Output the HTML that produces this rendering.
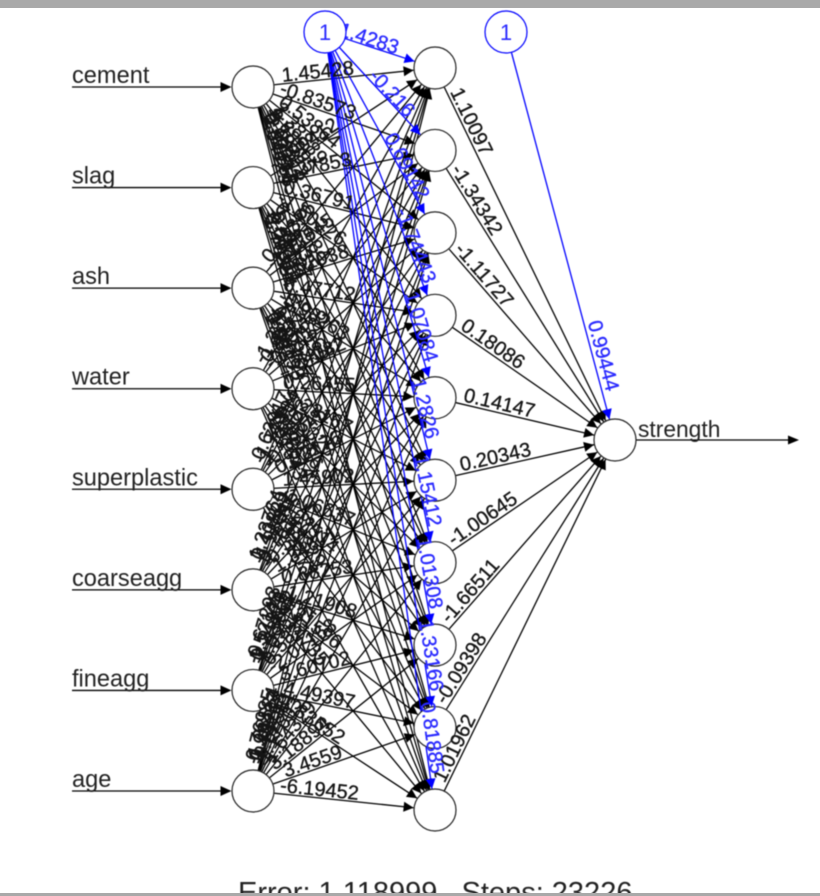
<!DOCTYPE html>
<html>
<head>
<meta charset="utf-8">
<title>Neural network plot</title>
<style>
html,body{margin:0;padding:0;background:#fff;}
#stage{position:relative;width:820px;height:896px;overflow:hidden;background:#fff;}
#top-bar{position:absolute;left:0;top:0;width:820px;height:8px;background:#a9a9a9;}
#bottom-bar{position:absolute;left:0;top:893px;width:820px;height:3px;background:#a9a9a9;}
svg{position:absolute;left:0;top:0;filter:blur(0.4px);}
text{font-family:"Liberation Sans",Arial,sans-serif;}
</style>
</head>
<body>
<div id="stage">
<svg id="net" width="820" height="896" viewBox="0 0 820 896"></svg>
<div id="top-bar"></div>
<div id="bottom-bar"></div>
</div>
<script>
const inputNames = ["cement","slag","ash","water","superplastic","coarseagg","fineagg","age"];
const outputName = "strength";
const cementWeights = [1.45428,-0.83573,0.53864,2.38889,1.68995,0.18322,-1.32218,0.90317,-2.10755,0.64129];
const slagWeights = [-0.90412,1.27853,0.36791,-1.50226,0.72984,1.18335,-0.46127,2.01489,0.29968,-1.76254];
const ashWeights = [0.81376,-1.12945,1.62038,0.47712,-0.98263,1.29968,0.35521,-1.84407,0.66193,1.03872];
const waterWeights = [-1.38245,0.92716,-0.57139,1.74082,0.26455,-2.23167,1.05328,0.48896,-0.73514,1.91643];
const superplasticWeights = [0.62917,-1.71364,1.14883,-0.39245,0.82176,1.45902,-1.06637,0.27514,1.58329,-0.84471];
const coarseaggWeights = [1.23764,0.40829,-1.95316,0.76142,-0.51287,1.34671,0.88253,-1.21908,0.31596,2.14735];
const fineaggWeights = [-0.67293,1.52148,0.24876,-1.43692,1.09525,0.58314,-2.07168,3.60702,4.49397,1.83652];
const ageWeights = [0.76985,-1.28534,1.96417,0.43268,-0.82951,1.17603,-1.64329,3.18894,3.4559,-6.19452];
const weightRows = [cementWeights,slagWeights,ashWeights,waterWeights,superplasticWeights,coarseaggWeights,fineaggWeights,ageWeights];
const biasHiddenWeights = [1.4283,-0.216,0.69142,-1.74443,1.07084,1.2826,1.15412,1.01308,1.33166,0.81885];
const hiddenOutputWeights = [1.10097,-1.34342,-1.11727,0.18086,0.14147,0.20343,-1.00645,-1.66511,-0.09398,1.01962];
const biasOutputWeight = 0.99444;
const errorValue = "1.118999";
const stepsValue = "23226";

const NS = "http://www.w3.org/2000/svg";
const svg = document.getElementById("net");
const R = 21.5;
function inX(){ return 253; }
function inY(i){ return 87 + i * (791 - 87) / (inputNames.length - 1); }
function hidX(){ return 435; }
function hidY(j){ return 68 + j * (810 - 68) / (hiddenOutputWeights.length - 1); }
const outNode = {x:615, y:440};
const bias1 = {x:325, y:32};
const bias2 = {x:506, y:32};

function make(tag, attrs, parent){
  const e = document.createElementNS(NS, tag);
  for (const k in attrs) e.setAttribute(k, attrs[k]);
  (parent || svg).appendChild(e);
  return e;
}
const lineLayer = make("g", {});


const nodeLayer = make("g", {});


const labelLayer = make("g", {});


const topLayer = make("g", {});



function edge(a, b, color, layerArrow){
  const dx = b.x - a.x, dy = b.y - a.y, L = Math.hypot(dx, dy), ux = dx / L, uy = dy / L;
  const sx = a.x + ux * R, sy = a.y + uy * R, ex = b.x - ux * R, ey = b.y - uy * R;
  const ln = make("line", {x1:sx, y1:sy, x2:ex, y2:ey, stroke:color, "stroke-width":1.3}, lineLayer);
  
  
  const al = 10, aw = 5;
  const bx = ex - ux * al, by = ey - uy * al;
  const pts = [ex + "," + ey, (bx - uy * aw) + "," + (by + ux * aw), (bx + uy * aw) + "," + (by - ux * aw)].join(" ");
  const head = make("polygon", {points:pts, fill:color}, layerArrow || lineLayer);
  
  
}

function edgeLabel(a, b, value, color, pos, off){
  const dx = b.x - a.x, dy = b.y - a.y, L = Math.hypot(dx, dy), ux = dx / L, uy = dy / L;
  const px = a.x + ux * pos + uy * off, py = a.y + uy * pos - ux * off;
  const deg = Math.atan2(dy, dx) * 180 / Math.PI;
  const fillCol = color === "#00f" ? "#2a2aff" : "#151515";
  const t = make("text", {x:0, y:0, "font-size":20, "text-anchor":"middle", "dominant-baseline":"central", fill:fillCol, stroke:fillCol, "stroke-width":0.35,
    transform:"translate(" + px + " " + py + ") rotate(" + deg + ")"}, labelLayer);
  t.textContent = String(value);
  
  
}

function circle(n, color, layer, name){
  const c = make("circle", {cx:n.x, cy:n.y, r:R - 0.5, fill:"#fff", stroke:color, "stroke-width":1.2}, layer);
  
  
}

function node(i){ return {x:inX(), y:inY(i)}; }
function hid(j){ return {x:hidX(), y:hidY(j)}; }

/* input to hidden */
weightRows.forEach(function(row, i){
  row.forEach(function(w, j){
    edge(node(i), hid(j), "#000");
    edgeLabel(node(i), hid(j), w, "#151515", 66, 8);
  });
});
/* hidden to output */
hiddenOutputWeights.forEach(function(w, j){
  edge(hid(j), outNode, "#000");
  edgeLabel(hid(j), outNode, w, "#151515", 64, 9);
});
/* bias to hidden */
biasHiddenWeights.forEach(function(w, j){
  const h = hid(j);
  edge(bias1, h, "#00f", topLayer);
  const span = Math.hypot(h.x - bias1.x, h.y - bias1.y);
  const pos = j === 0 ? span * 0.38 : Math.max(span * 0.56, span - 72);
  edgeLabel(bias1, h, w, "#00f", pos, 7);
});
/* bias to output */
edge(bias2, outNode, "#00f", topLayer);
edgeLabel(bias2, outNode, biasOutputWeight, "#00f", Math.hypot(outNode.x - bias2.x, outNode.y - bias2.y) * 0.8, 10);

/* input stubs and names */
inputNames.forEach(function(name, i){
  const y = inY(i);
  const ln = make("line", {x1:72, y1:y, x2:inX() - R - 8, y2:y, stroke:"#000", "stroke-width":1.3}, lineLayer);
  
  
  const ah = make("polygon", {points:(inX() - R) + "," + y + " " + (inX() - R - 11) + "," + (y - 5) + " " + (inX() - R - 11) + "," + (y + 5), fill:"#000"}, lineLayer);
  
  
  const t = make("text", {x:72, y:y - 4, "font-size":23.6, fill:"#222"}, labelLayer);
  t.textContent = name;
  
  
  circle({x:inX(), y:y}, "#222", nodeLayer, "input-node");
});
hiddenOutputWeights.forEach(function(w, j){
  circle(hid(j), "#222", nodeLayer, "hidden-node");
});
circle(outNode, "#222", nodeLayer, "output-node");

/* output arrow */
const outLine = make("line", {x1:outNode.x + R, y1:outNode.y, x2:790, y2:outNode.y, stroke:"#000", "stroke-width":1.3}, lineLayer);


const outHead = make("polygon", {points:"799," + outNode.y + " 788," + (outNode.y - 4.5) + " 788," + (outNode.y + 4.5), fill:"#000"}, lineLayer);


const outText = make("text", {x:638, y:outNode.y - 3, "font-size":22.8, fill:"#222"}, labelLayer);
outText.textContent = outputName;



/* bias nodes on top */
[bias1, bias2].forEach(function(b){
  circle(b, "#00f", topLayer, "bias-node");
  const t = make("text", {x:b.x, y:b.y + 8, "font-size":22, "text-anchor":"middle", fill:"#2a2aff"}, topLayer);
  t.textContent = "1";
  
  
});

/* footer */
const foot = make("text", {x:238, y:902, "font-size":29, fill:"#222"}, labelLayer);
foot.setAttribute("xml:space", "preserve");
foot.style.whiteSpace = "pre";
foot.textContent = "Error: " + errorValue + "   Steps: " + stepsValue;


</script>
</body>
</html>
